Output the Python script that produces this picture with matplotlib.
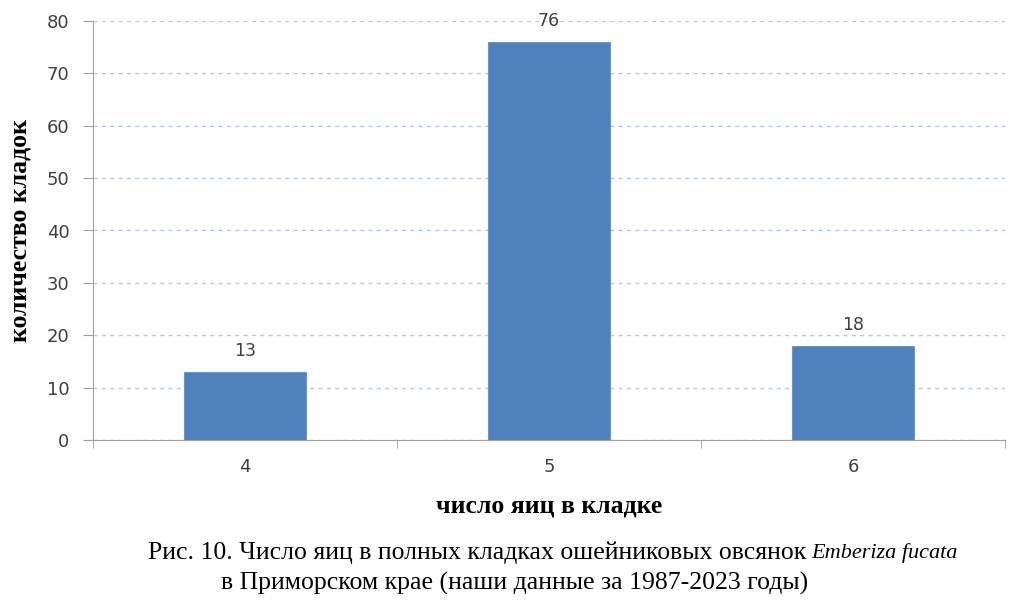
import matplotlib
matplotlib.use("Agg")
import matplotlib.pyplot as plt
import numpy as np

categories = ["4", "5", "6"]
values = [13, 76, 18]
yticks = [0, 10, 20, 30, 40, 50, 60, 70, 80]

fig = plt.figure(figsize=(10.24, 6.15), dpi=100)
ax = fig.add_axes([93/1024, 1-440/615, (1005-93)/1024, (440-21)/615])

x = np.arange(len(categories))
bars = ax.bar(x, values, width=0.4, color="#4f81bd", edgecolor="#6f96c8", linewidth=0.8, zorder=3)
for xi, v in zip(x, values):
    ax.text(xi, v + 2.2, str(v), ha="center", va="bottom", fontsize=12.5, color="#404040",
            family="DejaVu Sans")

ax.set_xlim(-0.5, len(categories) - 0.5)
ax.set_ylim(0, 80)
ax.set_yticks(yticks)
ax.set_yticklabels([str(t) for t in yticks], fontsize=13, color="#404040", family="DejaVu Sans")
ax.yaxis.grid(True, linestyle=(0, (3, 3)), color="#b9cde5", linewidth=1.0, zorder=0)
ax.set_xticks(x)
ax.set_xticklabels(categories, fontsize=13, color="#404040", family="DejaVu Sans")
ax.set_xticks(np.arange(-0.5, len(categories)), minor=True)
ax.tick_params(axis="x", which="major", length=0, pad=13)
ax.tick_params(axis="x", which="minor", length=6, color="#a0a0a0", direction="out")
ax.tick_params(axis="y", length=7, color="#a0a0a0", direction="out", pad=10)

for s in ["top", "right"]:
    ax.spines[s].set_visible(False)
ax.spines["left"].set_color("#a0a0a0")
ax.spines["bottom"].set_color("#a0a0a0")

fig.text(549/1024, 1-506/615, "число яиц в кладке", ha="center", va="center",
         fontsize=18.5, fontweight="bold", family="Liberation Serif")
fig.text(20/1024, 1-231/615, "количество кладок", ha="center", va="center", rotation=90,
         fontsize=18.5, fontweight="bold", family="Liberation Serif")

fig.text(806/1024, 1-553/615, "Рис. 10. Число яиц в полных кладках ошейниковых овсянок",
         ha="right", va="center", fontsize=18.5, family="Liberation Serif")
fig.text(811/1024, 1-553/615, "Emberiza fucata", ha="left", va="center", fontsize=16,
         style="italic", family="Liberation Serif")
fig.text(515/1024, 1-583/615, "в Приморском крае (наши данные за 1987-2023 годы)",
         ha="center", va="center", fontsize=18.5, family="Liberation Serif")

fig.savefig("out.png", dpi=100)
